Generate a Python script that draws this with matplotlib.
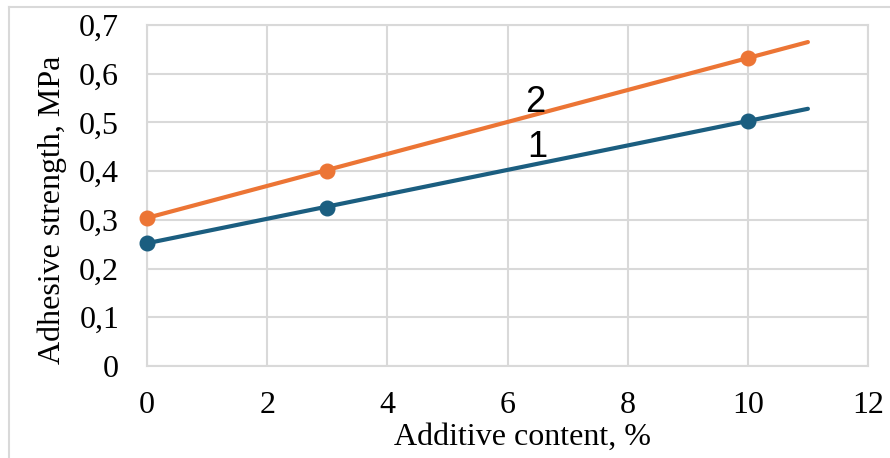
import numpy as np
import matplotlib.pyplot as plt
from matplotlib.lines import Line2D
import matplotlib.ticker as ticker

# measured points
additive = [0, 3, 10]
strength_1 = [0.252, 0.324, 0.503]
strength_2 = [0.304, 0.401, 0.632]

# trendline ends (x = 0 ... 11)
trend_x = [0, 11]
trend_1 = [0.252, 0.528]
trend_2 = [0.304, 0.665]

x_ticks = [0, 2, 4, 6, 8, 10, 12]
y_ticks = [0, 0.1, 0.2, 0.3, 0.4, 0.5, 0.6, 0.7]
y_labels = ['0', '0,1', '0,2', '0,3', '0,4', '0,5', '0,6', '0,7']

blue = '#1B5E80'
orange = '#EC7535'
grid = '#D9D9D9'

W, H = 890, 458
fig = plt.figure(figsize=(W / 100, H / 100), dpi=100)
ax = fig.add_axes([147 / W, 1 - 366 / H, (868 - 147) / W, (366 - 25) / H])

ax.plot(trend_x, trend_1, color=blue, lw=3.0, solid_capstyle='round', zorder=3)
ax.plot(trend_x, trend_2, color=orange, lw=3.0, solid_capstyle='round', zorder=3)
ax.plot(additive, strength_1, 'o', color=blue, ms=10.5, zorder=4, clip_on=False)
ax.plot(additive, strength_2, 'o', color=orange, ms=10.5, zorder=4, clip_on=False)

ax.text(6.46, 0.54, '2', fontsize=26, family='Liberation Sans', ha='center', va='center')
ax.text(6.49, 0.448, '1', fontsize=26, family='Liberation Sans', ha='center', va='center')

ax.set_xlim(0, 12)
ax.set_ylim(0, 0.7)
ax.set_xticks(x_ticks)
ax.set_yticks(y_ticks)
ax.set_yticklabels(y_labels)
ax.grid(True, color=grid, lw=1.5)
ax.set_axisbelow(True)
for s in ax.spines.values():
    s.set_color(grid)
    s.set_linewidth(1.5)
ax.tick_params(length=0, labelsize=23)
ax.tick_params(axis='y', pad=20)
ax.tick_params(axis='x', pad=18)
for lab in ax.get_xticklabels() + ax.get_yticklabels():
    lab.set_family('Liberation Serif')

ax.set_xlabel('Additive content, %', family='Liberation Serif', fontsize=23)
ax.set_ylabel('Adhesive strength, MPa', family='Liberation Serif', fontsize=23)
ax.xaxis.set_label_coords((523 - 147) / (868 - 147), -(437 - 366) / (366 - 25))
ax.yaxis.set_label_coords(-(147 - 52) / (868 - 147), (366 - 210) / (366 - 25))
ax.xaxis.label.set_va('center')
ax.yaxis.label.set_va('center')

# chart frame (top and left edges visible)
fig.add_artist(Line2D([9 / W, 9 / W], [0, 1 - 7 / H], color=grid, lw=1.5))
fig.add_artist(Line2D([9 / W, 1], [1 - 7 / H, 1 - 7 / H], color=grid, lw=1.5))

fig.savefig('out.png', dpi=100)
